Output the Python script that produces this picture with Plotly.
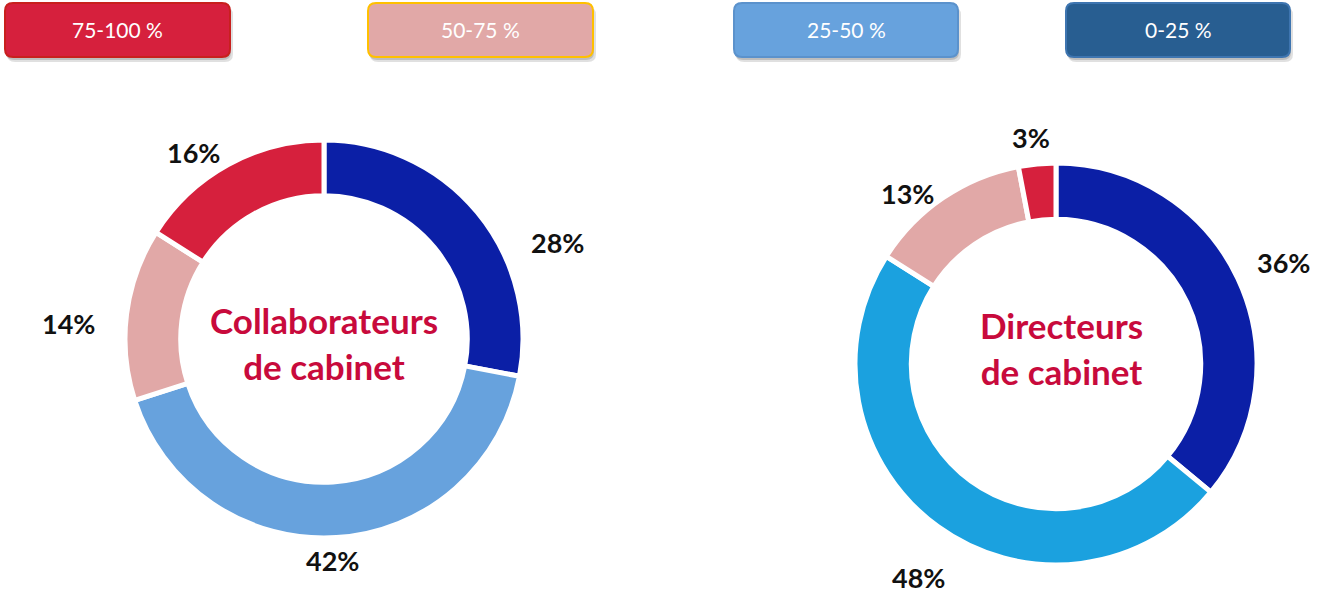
import plotly.graph_objects as go

# ---------------- data ----------------
categories = ["0-25 %", "25-50 %", "50-75 %", "75-100 %"]
collab_values = [28, 42, 14, 16]
direct_values = [36, 48, 13, 3]
legend_labels = ["75-100 %", "50-75 %", "25-50 %", "0-25 %"]
center_collab = "Collaborateurs<br>de cabinet"
center_direct = "Directeurs<br>de cabinet"

# ---------------- styles / layout ----------------
W, H = 1317, 596
collab_colors = ["#0B1FA6", "#67A2DD", "#E1A8A7", "#D6203D"]
direct_colors = ["#0B1FA6", "#1BA1DF", "#E1A8A7", "#D6203D"]
legend_fill = ["#D6203D", "#E1A8A7", "#67A2DD", "#285E91"]
legend_line = ["#C8201E", "#FFC000", "#5B92CC", "#3E75B0"]
legend_boxes = [(5, 3, 230, 57), (368, 3, 593, 57), (734, 3, 958, 57), (1066, 3, 1290, 57)]

# donut boxes in pixels (x0, y0, x1, y1)
collab_box = (125, 140, 523, 538)
direct_box = (855, 163, 1257, 565)

# label positions (pixels) for each slice
collab_label_pos = [(557, 242), (332, 560), (68, 323), (193, 152)]
direct_label_pos = [(1283, 262), (918, 577), (907, 193), (1031, 137)]
collab_center_pos = (324, 343)
direct_center_pos = (1061, 348)


def px(x):
    return x / W


def py(y):
    return 1 - y / H


def rrect(x0, y0, x1, y1, r=8):
    return (
        f"M {px(x0 + r)},{py(y0)} L {px(x1 - r)},{py(y0)} "
        f"Q {px(x1)},{py(y0)} {px(x1)},{py(y0 + r)} "
        f"L {px(x1)},{py(y1 - r)} Q {px(x1)},{py(y1)} {px(x1 - r)},{py(y1)} "
        f"L {px(x0 + r)},{py(y1)} Q {px(x0)},{py(y1)} {px(x0)},{py(y1 - r)} "
        f"L {px(x0)},{py(y0 + r)} Q {px(x0)},{py(y0)} {px(x0 + r)},{py(y0)} Z"
    )


fig = go.Figure()

for vals, cols, box in [(collab_values, collab_colors, collab_box),
                        (direct_values, direct_colors, direct_box)]:
    fig.add_trace(go.Pie(
        labels=categories,
        values=vals,
        hole=0.72,
        sort=False,
        direction="clockwise",
        rotation=0,
        marker=dict(colors=cols, line=dict(color="white", width=5)),
        textinfo="none",
        hoverinfo="label+percent",
        showlegend=False,
        domain=dict(x=[px(box[0]), px(box[2])], y=[py(box[3]), py(box[1])]),
    ))

annotations = []
shapes = []

label_font = dict(family="Lato", size=27, color="#111111", weight="bold")
for vals, poss in [(collab_values, collab_label_pos), (direct_values, direct_label_pos)]:
    for v, (x, y) in zip(vals, poss):
        annotations.append(dict(
            x=px(x), y=py(y), xref="paper", yref="paper", text=f"{v}%",
            showarrow=False, font=label_font, xanchor="center", yanchor="middle"))

center_font = dict(family="Lato", size=35, color="#C80A3C", weight="bold")
for txt, (x, y) in [(center_collab, collab_center_pos), (center_direct, direct_center_pos)]:
    annotations.append(dict(
        x=px(x), y=py(y), xref="paper", yref="paper", text=txt,
        showarrow=False, font=center_font, xanchor="center", yanchor="middle",
        align="center"))

for lab, fill, line, (x0, y0, x1, y1) in zip(legend_labels, legend_fill, legend_line, legend_boxes):
    shapes.append(dict(type="path", path=rrect(x0 + 2, y0 + 4, x1 + 3, y1 + 5),
                       xref="paper", yref="paper", fillcolor="rgba(0,0,0,0.12)",
                       line=dict(width=0), layer="below"))
    shapes.append(dict(type="path", path=rrect(x0 + 1, y0 + 2, x1 + 1, y1 + 3),
                       xref="paper", yref="paper", fillcolor="rgba(0,0,0,0.15)",
                       line=dict(width=0), layer="below"))
    shapes.append(dict(type="path", path=rrect(x0, y0, x1, y1),
                       xref="paper", yref="paper", fillcolor=fill,
                       line=dict(color=line, width=2)))
    annotations.append(dict(
        x=px((x0 + x1) / 2), y=py((y0 + y1) / 2), xref="paper", yref="paper",
        text=lab, showarrow=False,
        font=dict(family="Lato", size=21, color="white"),
        xanchor="center", yanchor="middle"))

fig.update_layout(
    width=W, height=H,
    margin=dict(l=0, r=0, t=0, b=0),
    paper_bgcolor="white",
    plot_bgcolor="white",
    annotations=annotations,
    shapes=shapes,
)

fig.write_html("out.html",
               config={"displayModeBar": False},
               post_script="document.body.style.margin='0';document.body.style.overflow='hidden';")
